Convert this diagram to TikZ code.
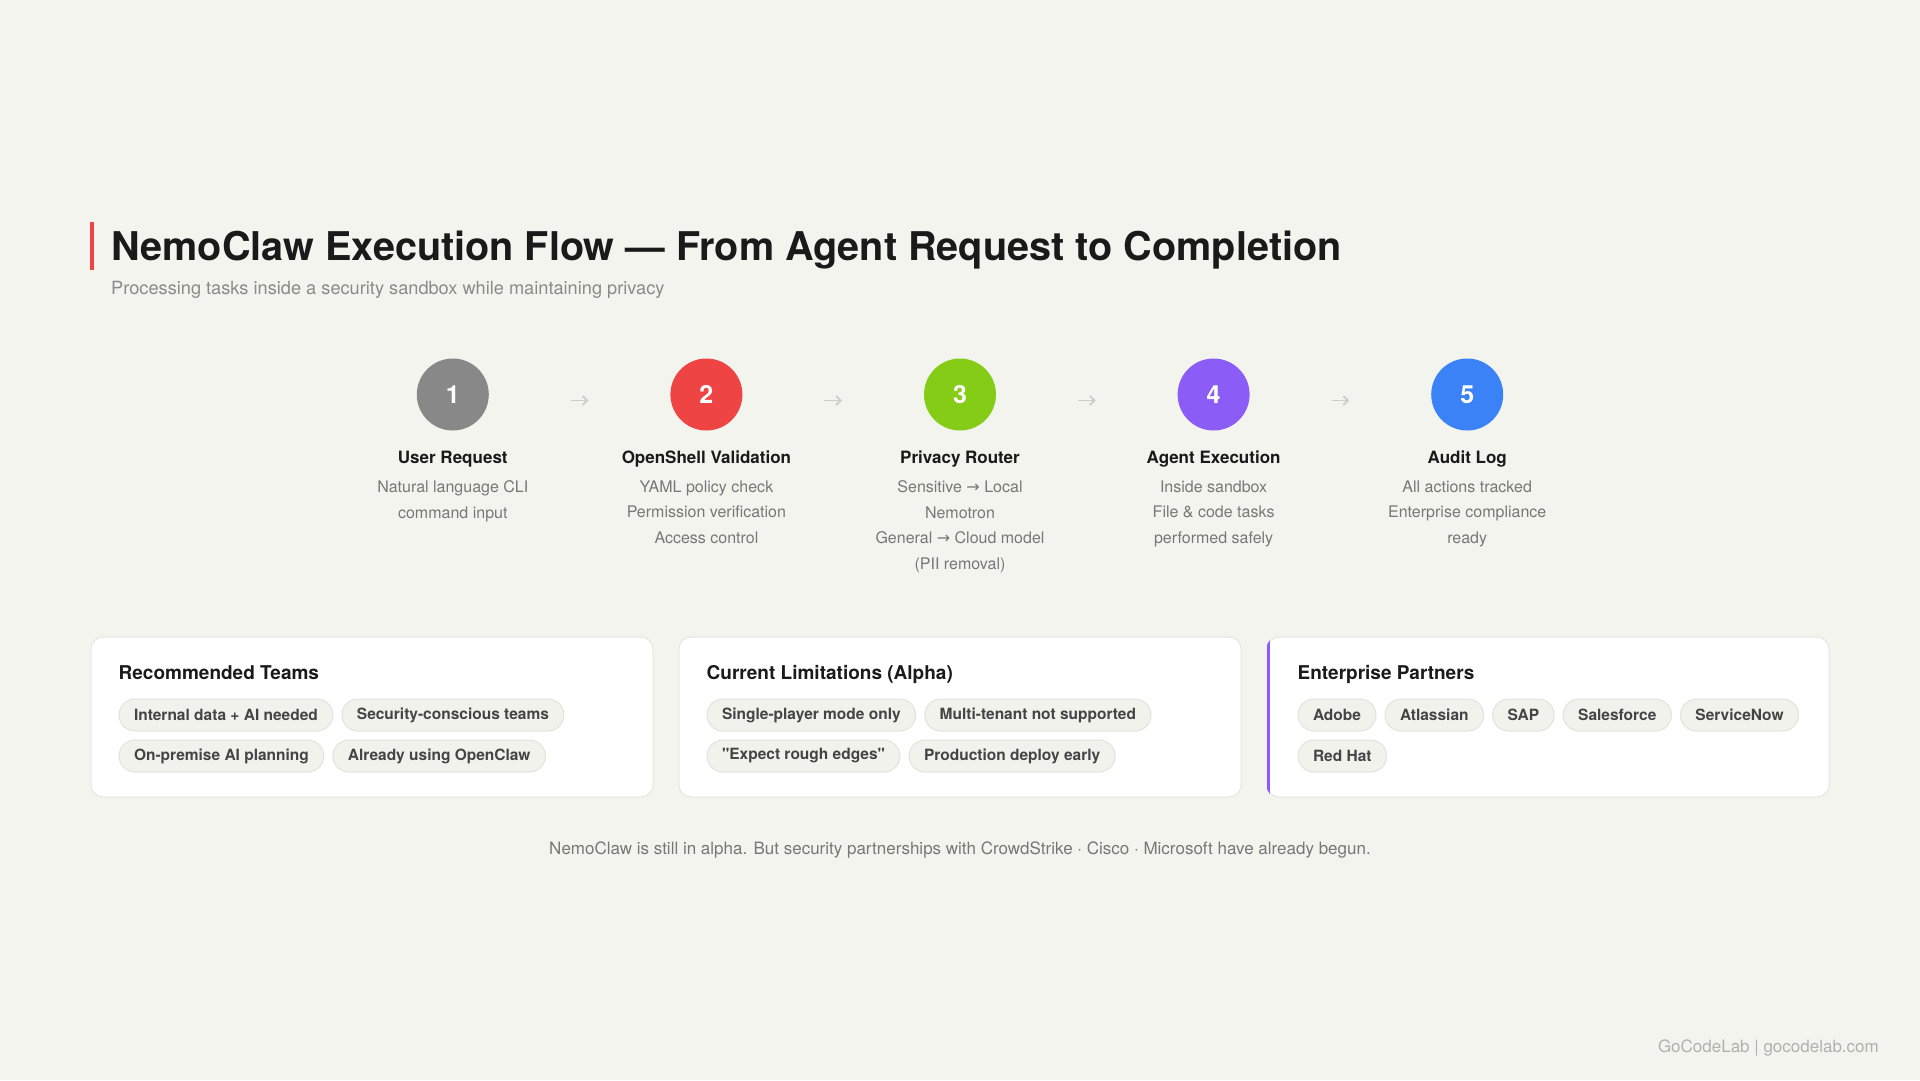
\documentclass[tikz,border=0pt]{standalone}
\usepackage{fontspec}
\setmainfont{TeX Gyre Heros}
\newfontfamily\arrowfont{DejaVu Sans}
\usetikzlibrary{positioning,calc,arrows.meta}

\definecolor{pagebg}{HTML}{F4F4EF}
\definecolor{inkdark}{HTML}{1A1A1A}
\definecolor{inkmid}{HTML}{777777}
\definecolor{inklight}{HTML}{8A8A8A}
\definecolor{inkfaint}{HTML}{B0B0B0}
\definecolor{accentred}{HTML}{EF4444}
\definecolor{dotgray}{HTML}{888888}
\definecolor{dotgreen}{HTML}{84CC16}
\definecolor{dotpurple}{HTML}{8B5CF6}
\definecolor{dotblue}{HTML}{3B82F6}
\definecolor{cardline}{HTML}{E6E6E1}
\definecolor{chipfill}{HTML}{F2F2ED}
\definecolor{chipline}{HTML}{E3E3DE}
\definecolor{chiptext}{HTML}{444444}
\definecolor{arrowgray}{HTML}{CCCCCC}

\newcommand{\toarrow}{{\arrowfont →}}

\begin{document}
\begin{tikzpicture}[x=1pt,y=-1pt,
    stepdot/.style={circle, minimum size=72pt, inner sep=0pt, text=white,
      font=\fontsize{25}{25}\selectfont\bfseries},
    steptitle/.style={anchor=base, inner sep=0pt, text=inkdark,
      font=\fontsize{17}{20}\selectfont\bfseries},
    stepdesc/.style={anchor=north, inner sep=0pt, align=center, text=inkmid,
      font=\fontsize{16}{25.5}\selectfont},
    flowarrow/.style={-{Straight Barb[length=4.5pt,width=9pt]}, arrowgray,
      line width=1.8pt, shorten <=118pt, shorten >=118pt},
    card/.style={draw=cardline, fill=white, line width=1pt, rounded corners=12pt,
      minimum width=562pt, minimum height=160pt, inner sep=0pt},
    cardhead/.style={anchor=base west, inner sep=0pt, text=inkdark,
      font=\fontsize{19}{22}\selectfont\bfseries},
    chip/.style={draw=chipline, fill=chipfill, line width=1pt, rounded corners=16pt,
      minimum height=32pt, inner xsep=15pt, inner ysep=0pt, text=chiptext,
      font=\fontsize{15.5}{18}\selectfont\bfseries},
    note/.style={inner sep=0pt, text=inkmid, font=\fontsize{17}{20}\selectfont}]

  \fill[pagebg] (0,0) rectangle (1920,1080);
  \useasboundingbox (0,0) rectangle (1920,1080);

  % heading
  \fill[accentred] (90,222) rectangle (94,270);
  \node[anchor=base west, inner sep=0pt, text=inkdark,
    font=\fontsize{39.6}{46}\selectfont\bfseries] (title) at (111,260)
    {NemoClaw Execution Flow — From Agent Request to Completion};
  \node[note, anchor=base west, text=inklight, font=\fontsize{18.2}{22}\selectfont]
    (subtitle) at (111,294) {Processing tasks inside a security sandbox while maintaining privacy};

  % five steps
  \foreach \n/\x/\col/\ttl/\dsc in {
      1/452.8/dotgray/{User Request}/{Natural language CLI\\command input},
      2/706.4/accentred/{OpenShell Validation}/{YAML policy check\\Permission verification\\Access control},
      3/960/dotgreen/{Privacy Router}/{Sensitive \toarrow{} Local\\Nemotron\\General \toarrow{} Cloud model\\(PII removal)},
      4/1213.6/dotpurple/{Agent Execution}/{Inside sandbox\\File \& code tasks\\performed safely},
      5/1467.2/dotblue/{Audit Log}/{All actions tracked\\Enterprise compliance\\ready}}{
    \node[stepdot, fill=\col] (s\n) at (\x,394.5) {\n};
    \node[steptitle] (t\n) at ([yshift=-68.5pt]s\n.center) {\ttl};
    \node[stepdesc] (d\n) at ([yshift=-86pt]s\n.center) {\dsc};
  }
  \foreach \a/\b in {1/2,2/3,3/4,4/5}
    \draw[flowarrow] ([yshift=-6pt]s\a.center) -- ([yshift=-6pt]s\b.center);

  % cards
  \node[card] (card1) at (372,717) {};
  \node[card] (card2) at (960,717) {};
  \node[card] (card3) at (1548,717) {};
  \begin{scope}
    \clip[rounded corners=12pt] (card3.north west) rectangle (card3.south east);
    \fill[dotpurple] (card3.north west) rectangle ([xshift=3.5pt]card3.south west);
  \end{scope}

  \node[cardhead] (h1) at ([xshift=28pt,yshift=-43pt]card1.north west) {Recommended Teams};
  \node[chip, anchor=west] (r1) at ([xshift=28pt,yshift=-78.5pt]card1.north west) {Internal data + AI needed};
  \node[chip, right=8pt of r1] (r2) {Security-conscious teams};
  \node[chip, anchor=west] (r3) at ([xshift=28pt,yshift=-119.5pt]card1.north west) {On-premise AI planning};
  \node[chip, right=8pt of r3] (r4) {Already using OpenClaw};

  \node[cardhead] (h2) at ([xshift=28pt,yshift=-43pt]card2.north west) {Current Limitations (Alpha)};
  \node[chip, anchor=west] (l1) at ([xshift=28pt,yshift=-78.5pt]card2.north west) {Single-player mode only};
  \node[chip, right=8pt of l1] (l2) {Multi-tenant not supported};
  \node[chip, anchor=west] (l3) at ([xshift=28pt,yshift=-119.5pt]card2.north west) {\textquotedbl Expect rough edges\textquotedbl};
  \node[chip, right=8pt of l3] (l4) {Production deploy early};

  \node[cardhead] (h3) at ([xshift=31pt,yshift=-43pt]card3.north west) {Enterprise Partners};
  \node[chip, anchor=west] (p1) at ([xshift=31pt,yshift=-78.5pt]card3.north west) {Adobe};
  \node[chip, right=8pt of p1] (p2) {Atlassian};
  \node[chip, right=8pt of p2] (p3) {SAP};
  \node[chip, right=8pt of p3] (p4) {Salesforce};
  \node[chip, right=8pt of p4] (p5) {ServiceNow};
  \node[chip, anchor=west] (p6) at ([xshift=31pt,yshift=-119.5pt]card3.north west) {Red Hat};

  % footer
  \node[note, anchor=base] (footer) at (960,854.5)
    {NemoClaw is still in alpha. But security partnerships with CrowdStrike · Cisco · Microsoft have already begun.};
  \node[note, anchor=base east, text=inkfaint] (brand) at (1879,1052) {GoCodeLab | gocodelab.com};
\end{tikzpicture}
\end{document}
